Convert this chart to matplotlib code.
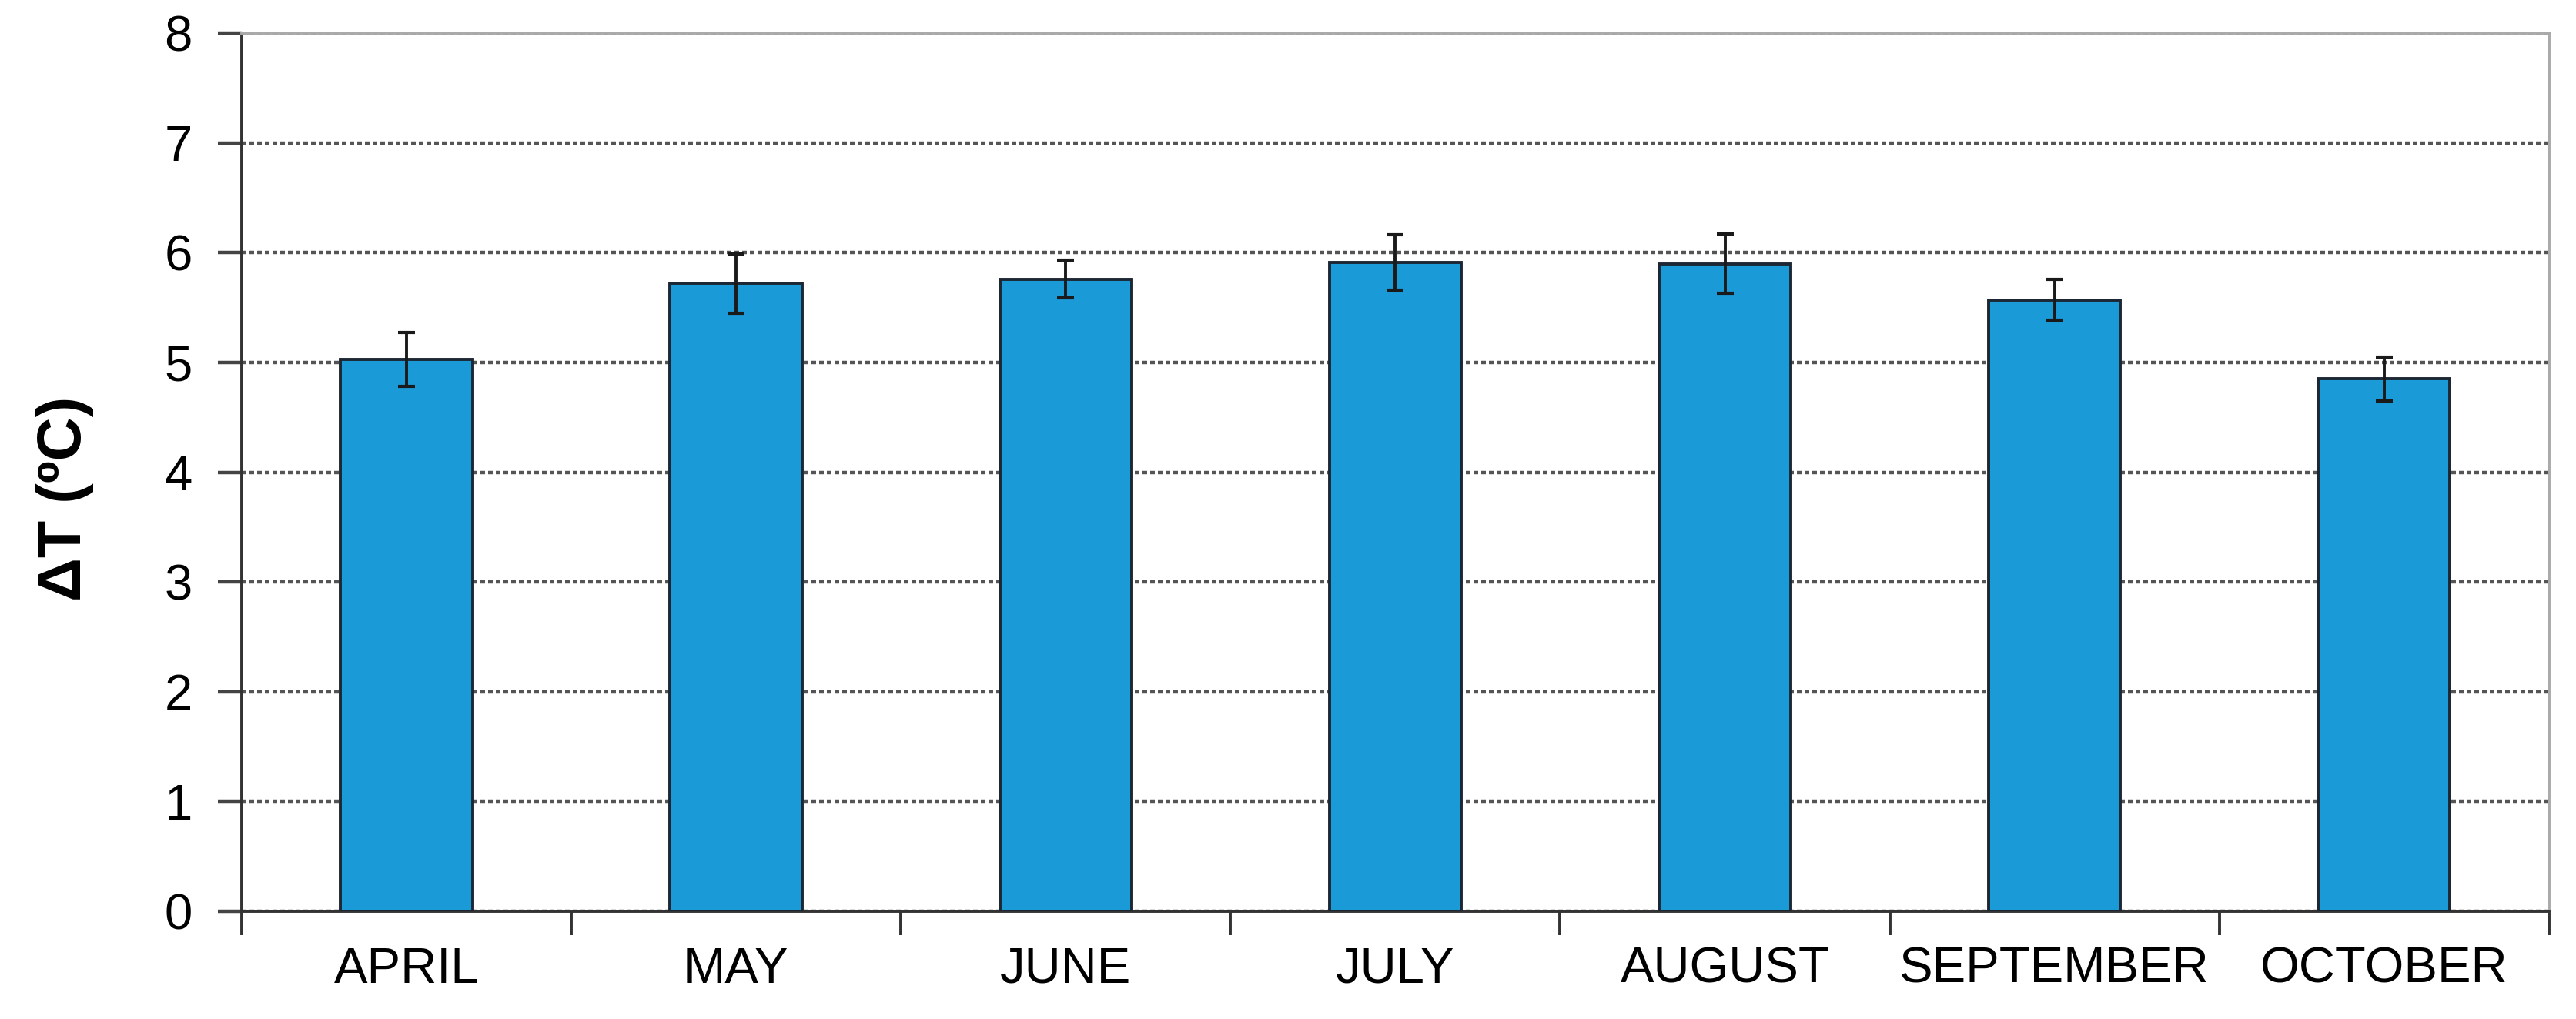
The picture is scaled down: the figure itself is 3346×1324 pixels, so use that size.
import matplotlib
matplotlib.use('Agg')
import matplotlib.pyplot as plt
import numpy as np

plt.rcParams['font.family'] = ['Liberation Sans', 'DejaVu Sans']

months = ['APRIL', 'MAY', 'JUNE', 'JULY', 'AUGUST', 'SEPTEMBER', 'OCTOBER']
delta_t = [5.03, 5.72, 5.76, 5.91, 5.90, 5.57, 4.85]
delta_t_err = [0.245, 0.27, 0.175, 0.25, 0.27, 0.185, 0.20]
y_ticks = [0, 1, 2, 3, 4, 5, 6, 7, 8]

fig = plt.figure(figsize=(33.46, 13.24), dpi=100)
ax = fig.add_axes([0.0938, 0.1057, 0.8957, 0.8618])

x = np.arange(len(months))
ax.bar(x, delta_t, width=0.4, color='#1b9ad8', edgecolor='#1c2733', linewidth=2.8, zorder=3)
ax.errorbar(x, delta_t, yerr=delta_t_err, fmt='none', ecolor='#1a1a1a',
            elinewidth=2.8, capsize=8, capthick=3, zorder=4)

ax.set_xlim(-0.5, len(months) - 0.5)
ax.set_ylim(0, 8)
ax.set_yticks(y_ticks)
ax.set_yticklabels([str(v) for v in y_ticks], fontsize=47)

# category labels at centres, tick marks at the boundaries
ax.set_xticks(x)
ax.set_xticklabels(months, fontsize=47)
ax.tick_params(axis='x', which='major', length=0, pad=33)
ax.set_xticks(np.arange(-0.5, len(months)), minor=True)
ax.tick_params(axis='x', which='minor', length=22, width=2.8, color='#333333')
ax.tick_params(axis='y', which='major', length=22, width=3.2, color='#444444', pad=24)

ax.yaxis.grid(True, color='#555555', linewidth=3.2, linestyle=(0, (1.35, 0.9)), zorder=0)
ax.set_axisbelow(True)

for side in ['left', 'bottom']:
    ax.spines[side].set_color('#333333')
    ax.spines[side].set_linewidth(2.8)
for side in ['top', 'right']:
    ax.spines[side].set_color('#aaaaaa')
    ax.spines[side].set_linewidth(2.8)

ax.set_ylabel('ΔT (ºC)', fontsize=57, fontweight='bold')
ax.yaxis.set_label_coords(-0.064, 0.47)

fig.savefig('out.png', dpi=100)
